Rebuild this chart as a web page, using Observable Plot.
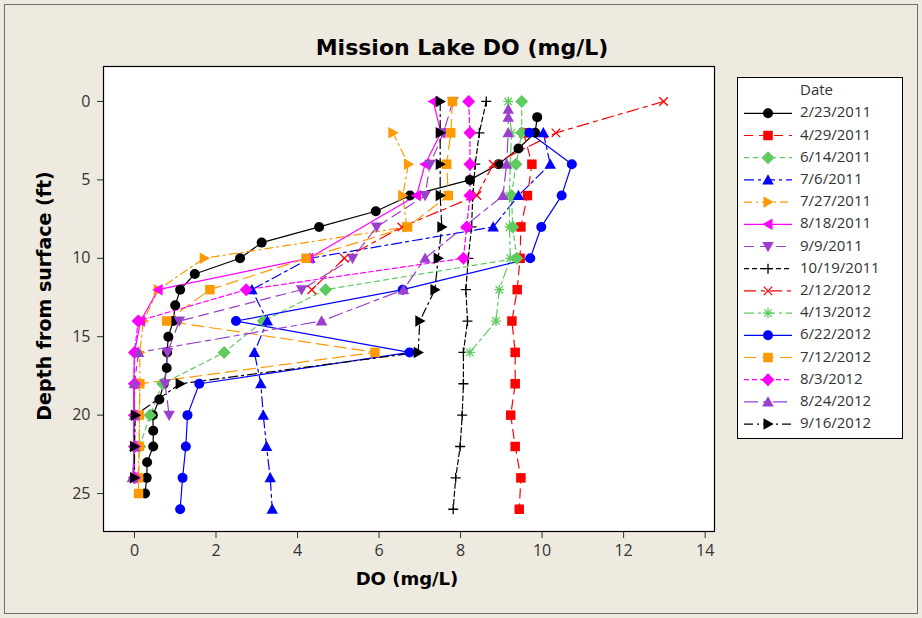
<!DOCTYPE html>
<html><head><meta charset="utf-8">
<script src="https://cdn.jsdelivr.net/npm/d3@7"></script>
<script src="https://cdn.jsdelivr.net/npm/@observablehq/plot@0.6"></script>
<style>
html,body{margin:0;padding:0;background:#EEEAE0;}
#chart{width:922px;height:618px;}
</style></head><body><div id="chart"></div>
<script>
// ---------- data ----------
const dates = ["2/23/2011","4/29/2011","6/14/2011","7/6/2011","7/27/2011","8/18/2011","9/9/2011","10/19/2011","2/12/2012","4/13/2012","6/22/2012","7/12/2012","8/3/2012","8/24/2012","9/16/2012"];

const depth_20110223 = [1,2,3,4,5,6,7,8,9,10,11,12,13,14,15,16,17,18,19,20,21,22,23,24,25];
const do_20110223    = [9.88,9.83,9.42,8.93,8.23,6.76,5.92,4.53,3.12,2.59,1.48,1.12,1.0,0.95,0.83,0.8,0.79,0.72,0.61,0.45,0.46,0.46,0.31,0.3,0.26];

const depth_20110429 = [2,4,6,8,10,12,14,16,18,20,22,24,26];
const do_20110429    = [9.55,9.75,9.64,9.48,9.46,9.39,9.26,9.34,9.34,9.23,9.34,9.48,9.44];

const depth_20110614 = [0,2,4,6,8,10,12,14,16,18,20,22];
const do_20110614    = [9.5,9.5,9.36,9.25,9.28,9.38,4.69,3.16,2.2,0.69,0.38,0.13];

const depth_20110706 = [2,4,6,8,10,12,14,16,18,20,22,24,26];
const do_20110706    = [10.03,10.2,9.42,8.8,4.3,2.88,3.26,2.94,3.1,3.16,3.24,3.33,3.38];

const depth_20110727 = [2,4,6,8,10,12,14,16,18,20,22,24];
const do_20110727    = [6.34,6.72,6.58,6.68,1.71,0.58,0.22,0.13,0.13,0.12,0.12,0.09];

const depth_20110818 = [0,2,4,6,10,12,14,16,18,20,22,24];
const do_20110818    = [7.33,7.52,7.13,6.92,4.28,0.58,0.15,0.0,-0.02,-0.02,-0.02,-0.02];

const depth_20110909 = [0,2,4,6,8,10,12,14,16,18,20];
const do_20110909    = [7.81,7.58,7.25,7.13,5.94,5.35,4.1,1.1,0.81,0.75,0.85];

const depth_20111019 = [0,2,4,6,8,10,12,14,16,18,20,22,24,26];
const do_20111019    = [8.63,8.46,8.36,8.3,8.27,8.19,8.13,8.17,8.07,8.07,8.04,7.99,7.88,7.82];

const depth_20120212 = [0,2,4,6,8,10,12];
const do_20120212    = [12.98,10.34,8.8,8.4,6.56,5.15,4.35];

const depth_20120413 = [0,2,4,6,8,10,12,14,16];
const do_20120413    = [9.17,9.25,9.22,9.2,9.2,9.22,8.95,8.87,8.23];

const depth_20120622 = [2,4,6,8,10,12,14,16,18,20,22,24,26];
const do_20120622    = [9.69,10.73,10.48,9.98,9.71,6.58,2.49,6.75,1.59,1.3,1.26,1.18,1.12];

const depth_20120712 = [0,2,4,6,8,10,12,14,16,18,20,22,24,25];
const do_20120712    = [7.8,7.76,7.66,7.7,6.7,4.21,1.85,0.79,5.9,0.13,0.12,0.12,0.1,0.1];

const depth_20120803 = [0,2,4,6,8,10,12,14,16,18,20,22,24];
const do_20120803    = [8.2,8.23,8.23,8.23,8.15,8.07,2.74,0.09,0.0,0.0,0.0,0.0,0.0];

const depth_20120824 = [0.5,1,2,4,6,10,12,14,16,18,20,22,24];
const do_20120824    = [9.17,9.17,9.17,9.13,9.04,7.13,6.6,4.59,0.1,0.0,0.0,0.0,-0.05];

const depth_20120916 = [0,2,4,6,8,10,12,14,16,18,20,22,24];
const do_20120916    = [7.5,7.5,7.5,7.5,7.54,7.45,7.37,7.0,6.96,1.12,0.02,0.0,0.0];

const xTicks = [0,2,4,6,8,10,12,14];
const yTicks = [0,5,10,15,20,25];

// ---------- symbols ----------
const R = s => Math.sqrt(s / Math.PI);
const poly = pts => ({draw(c, s) { const r = R(s); c.moveTo(pts[0][0]*r, pts[0][1]*r); for (let i = 1; i < pts.length; i++) c.lineTo(pts[i][0]*r, pts[i][1]*r); c.closePath(); }});
const symCircle = {draw(c, s) { const r = R(s); c.moveTo(r, 0); c.arc(0, 0, r, 0, 2 * Math.PI); }};
const symSquare = poly([[-0.95,-0.95],[0.95,-0.95],[0.95,0.95],[-0.95,0.95]]);
const symDiamond = poly([[0,-1.3],[1.3,0],[0,1.3],[-1.3,0]]);
const symTriUp = poly([[0,-1.15],[1.15,0.9],[-1.15,0.9]]);
const symTriDown = poly([[0,1.15],[1.15,-0.9],[-1.15,-0.9]]);
const symTriRight = poly([[1.15,0],[-0.9,1.15],[-0.9,-1.15]]);
const symTriLeft = poly([[-1.15,0],[0.9,1.15],[0.9,-1.15]]);
const symPlus = {draw(c, s) { const r = R(s); c.moveTo(-r,0); c.lineTo(r,0); c.moveTo(0,-r); c.lineTo(0,r); }};
const symTimes = {draw(c, s) { const r = R(s)*0.85; c.moveTo(-r,-r); c.lineTo(r,r); c.moveTo(r,-r); c.lineTo(-r,r); }};
const symAst = {draw(c, s) { const r = R(s); const k = r*0.75; c.moveTo(-r,0); c.lineTo(r,0); c.moveTo(0,-r); c.lineTo(0,r); c.moveTo(-k,-k); c.lineTo(k,k); c.moveTo(k,-k); c.lineTo(-k,k); }};

const BLACK="#000000", RED="#FF0000", GREEN="#5FCB5F", BLUE="#0000FF", ORANGE="#FF9900", MAGENTA="#FF00FF", PURPLE="#9B3FCF";

const series = [
  {date: dates[0],  depth: depth_20110223, val: do_20110223, color: BLACK,   dash: null,          sym: symCircle,   filled: true},
  {date: dates[1],  depth: depth_20110429, val: do_20110429, color: RED,     dash: "9,6",         sym: symSquare,   filled: true},
  {date: dates[2],  depth: depth_20110614, val: do_20110614, color: GREEN,   dash: "5,4",         sym: symDiamond,  filled: true},
  {date: dates[3],  depth: depth_20110706, val: do_20110706, color: BLUE,    dash: "10,4,3,4",    sym: symTriUp,    filled: true},
  {date: dates[4],  depth: depth_20110727, val: do_20110727, color: ORANGE,  dash: "8,4,2,4",     sym: symTriRight, filled: true},
  {date: dates[5],  depth: depth_20110818, val: do_20110818, color: MAGENTA, dash: null,          sym: symTriLeft,  filled: true},
  {date: dates[6],  depth: depth_20110909, val: do_20110909, color: PURPLE,  dash: "10,6",        sym: symTriDown,  filled: true},
  {date: dates[7],  depth: depth_20111019, val: do_20111019, color: BLACK,   dash: "5,3",         sym: symPlus,     filled: false},
  {date: dates[8],  depth: depth_20120212, val: do_20120212, color: RED,     dash: "12,5,4,5",    sym: symTimes,    filled: false},
  {date: dates[9],  depth: depth_20120413, val: do_20120413, color: GREEN,   dash: "10,4,3,4",    sym: symAst,      filled: false},
  {date: dates[10], depth: depth_20120622, val: do_20120622, color: BLUE,    dash: null,          sym: symCircle,   filled: true},
  {date: dates[11], depth: depth_20120712, val: do_20120712, color: ORANGE,  dash: "12,6",        sym: symSquare,   filled: true},
  {date: dates[12], depth: depth_20120803, val: do_20120803, color: MAGENTA, dash: "5,3",         sym: symDiamond,  filled: true},
  {date: dates[13], depth: depth_20120824, val: do_20120824, color: PURPLE,  dash: "14,5,5,5",    sym: symTriUp,    filled: true},
  {date: dates[14], depth: depth_20120916, val: do_20120916, color: BLACK,   dash: "9,4,2,4",     sym: symTriRight, filled: true}
];

series.forEach(s => { s.rows = s.depth.map((d, i) => ({depth: d, DO: s.val[i], date: s.date})); });

const lineMarks = series.map(s => Plot.line(s.rows, {x: "DO", y: "depth", stroke: s.color, strokeWidth: 1.2, strokeDasharray: s.dash || undefined}));
const dotMarks = series.map(s => s.filled
  ? Plot.dot(s.rows, {x: "DO", y: "depth", symbol: s.sym, r: 5, fill: s.color, stroke: "none"})
  : Plot.dot(s.rows, {x: "DO", y: "depth", symbol: s.sym, r: 5, fill: "none", stroke: s.color, strokeWidth: 1.3}));

const chart = Plot.plot({
  width: 922, height: 618,
  marginLeft: 103, marginRight: 208, marginTop: 66, marginBottom: 87,
  x: {domain: [-0.76, 14.23]},
  y: {domain: [-2.23, 27.42], reverse: true},
  style: {background: "transparent", fontFamily: "'Open Sans', sans-serif", fontSize: "16px", color: "#333"},
  marks: [
    Plot.frame({fill: "white", stroke: "none"}),
    Plot.axisX({ticks: xTicks, tickSize: 7, tickPadding: 6, label: null, tickFormat: d => String(d)}),
    Plot.axisY({ticks: yTicks, tickSize: 6, tickPadding: 7, label: null, tickFormat: d => String(d)}),
    ...lineMarks,
    ...dotMarks,
    Plot.frame({stroke: "black", strokeWidth: 1.2})
  ]
});

document.getElementById("chart").appendChild(chart);

// ---------- title, axis labels, legend ----------
const svg = d3.select(chart);
svg.append("rect").attr("x", 4.5).attr("y", 4.5).attr("width", 913).attr("height", 609)
   .attr("fill", "none").attr("stroke", "#6f6f6f").attr("stroke-width", 1);
svg.append("text").attr("x", 462).attr("y", 55).attr("text-anchor", "middle")
   .style("font-family", "'DejaVu Sans', sans-serif").style("font-weight", "bold").style("font-size", "22px").attr("fill", "#000")
   .text("Mission Lake DO (mg/L)");
svg.append("text").attr("transform", "translate(45,296) rotate(-90)").attr("text-anchor", "middle").attr("dominant-baseline", "middle")
   .style("font-family", "'DejaVu Sans', sans-serif").style("font-weight", "bold").style("font-size", "19px").attr("fill", "#000")
   .text("Depth from surface (ft)");
svg.append("text").attr("x", 407).attr("y", 585).attr("text-anchor", "middle")
   .style("font-family", "'DejaVu Sans', sans-serif").style("font-weight", "bold").style("font-size", "18px").attr("fill", "#000")
   .text("DO (mg/L)");

const lg = svg.append("g").attr("text-anchor", "start");
lg.append("rect").attr("x", 737.5).attr("y", 77.5).attr("width", 165).attr("height", 361)
  .attr("fill", "white").attr("stroke", "black").attr("stroke-width", 1);
lg.append("text").attr("x", 800).attr("y", 91).attr("text-anchor", "start").attr("dominant-baseline", "middle")
  .style("font-family", "'Open Sans', sans-serif").style("font-size", "15px").attr("fill", "#333").text("Date");
series.forEach((s, i) => {
  const y = 113.3 + i * 22.2;
  lg.append("line").attr("x1", 744).attr("x2", 792).attr("y1", y).attr("y2", y)
    .attr("stroke", s.color).attr("stroke-width", 1.2).attr("stroke-dasharray", s.dash || null);
  lg.append("path").attr("transform", `translate(768,${y})`)
    .attr("d", d3.symbol(s.sym, Math.PI * 25)())
    .attr("fill", s.filled ? s.color : "none").attr("stroke", s.filled ? "none" : s.color).attr("stroke-width", 1.3);
  lg.append("text").attr("x", 800).attr("y", y).attr("text-anchor", "start").attr("dominant-baseline", "middle")
    .style("font-family", "'Open Sans', sans-serif").style("font-size", "15px").attr("fill", "#333").text(s.date);
});
</script></body></html>
